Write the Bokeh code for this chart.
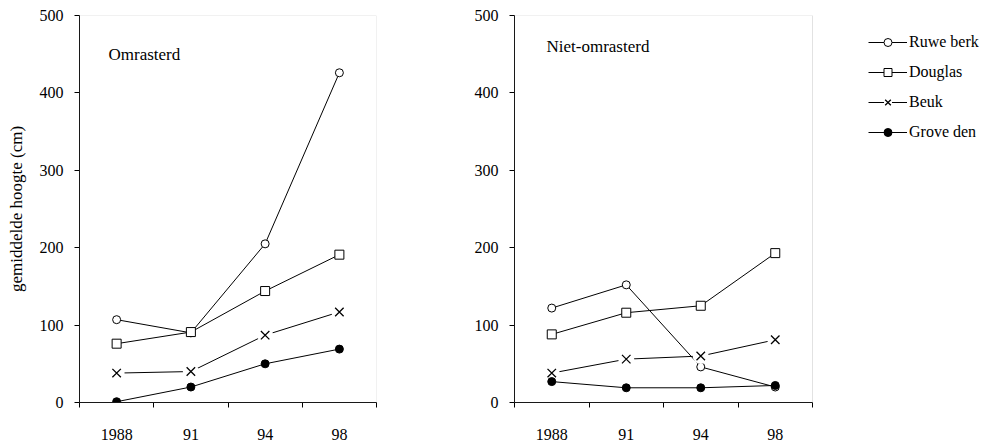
from bokeh.plotting import figure
from bokeh.models import (Range1d, FixedTicker, Label, Legend, LegendItem,
                          BoxAnnotation)
from bokeh.layouts import row
from bokeh.embed import file_html
from bokeh.resources import INLINE

years = ["1988", "91", "94", "98"]
species = ["Ruwe berk", "Douglas", "Beuk", "Grove den"]

# Omrasterd
om_ruwe_berk = [107, 90, 205, 426]
om_douglas = [76, 91, 144, 191]
om_beuk = [38, 40, 87, 117]
om_grove_den = [1, 20, 50, 69]

# Niet-omrasterd
niet_ruwe_berk = [122, 152, 46, 20]
niet_douglas = [88, 116, 125, 193]
niet_beuk = [38, 56, 60, 81]
niet_grove_den = [27, 19, 19, 22]

y_ticks = [0, 100, 200, 300, 400, 500]

FONT = "Liberation Serif"
N = len(years)
xs = [i + 0.5 for i in range(N)]
bounds = list(range(N + 1))


def make_panel(title, series, ylabel, min_left, panel_w, frame_w, min_right,
               top, tx, ty):
    # frame_w may be wider than the panel box to make room for the legend
    x_end = N * frame_w / panel_w
    p = figure(output_backend="svg", toolbar_location=None,
               width=min_left + frame_w + min_right, height=442,
               x_range=Range1d(0, x_end), y_range=Range1d(0, 500),
               min_border_left=min_left, min_border_right=min_right,
               min_border_top=top, min_border_bottom=442 - 388 - top)
    p.grid.visible = False
    p.outline_line_color = None
    p.background_fill_color = "white"
    p.border_fill_color = "white"
    p.add_layout(BoxAnnotation(left=0, right=N, bottom=0, top=500,
                               fill_alpha=0, line_color="#a0a0a0",
                               line_width=1))

    xa = p.xaxis[0]
    xa.bounds = (0, N)
    xa.ticker = FixedTicker(ticks=xs, minor_ticks=bounds)
    xa.major_label_overrides = {x: y for x, y in zip(xs, years)}
    xa.major_tick_out = 0
    xa.major_tick_in = 0
    xa.minor_tick_out = 5
    xa.minor_tick_in = 0
    xa.minor_tick_line_color = "black"
    xa.axis_line_color = "black"
    xa.major_label_standoff = 21
    xa.major_label_text_font = FONT
    xa.major_label_text_font_size = "16px"
    xa.major_label_text_color = "black"

    ya = p.yaxis[0]
    ya.ticker = FixedTicker(ticks=y_ticks, minor_ticks=[])
    ya.major_tick_out = 5
    ya.major_tick_in = 0
    ya.major_tick_line_color = "black"
    ya.axis_line_color = "black"
    ya.major_label_standoff = 11
    ya.major_label_text_font = FONT
    ya.major_label_text_font_size = "16px"
    ya.major_label_text_color = "black"
    if ylabel:
        ya.axis_label = ylabel
        ya.axis_label_text_font = FONT
        ya.axis_label_text_font_size = "17px"
        ya.axis_label_text_font_style = "normal"
        ya.axis_label_text_color = "black"
        ya.axis_label_standoff = 11

    ruwe, doug, beuk, grove = series
    l1 = p.line(xs, ruwe, line_color="black", line_width=1)
    l2 = p.line(xs, doug, line_color="black", line_width=1)
    l3 = p.line(xs, beuk, line_color="black", line_width=1)
    l4 = p.line(xs, grove, line_color="black", line_width=1)

    s1 = p.scatter(xs, ruwe, marker="circle", size=8, fill_color="white",
                   line_color="black", line_width=1)
    s2 = p.scatter(xs, doug, marker="square", size=9, fill_color="white",
                   line_color="black", line_width=1)
    m3 = p.scatter(xs, beuk, marker="circle", size=16, fill_color="white",
                   line_color=None)
    s3 = p.scatter(xs, beuk, marker="x", size=12, line_color="black",
                   line_width=1.3)
    s4 = p.scatter(xs, grove, marker="circle", size=8, fill_color="black",
                   line_color="black")

    items = [
        LegendItem(label=species[0], renderers=[l1, s1]),
        LegendItem(label=species[1], renderers=[l2, s2]),
        LegendItem(label=species[2], renderers=[l3, m3, s3]),
        LegendItem(label=species[3], renderers=[l4, s4]),
    ]

    p.add_layout(Label(x=tx, y=ty, x_units="screen", y_units="screen",
                       text=title, text_font=FONT, text_font_size="17px",
                       text_baseline="middle", text_color="black"))
    return p, items


p1, _ = make_panel("Omrasterd",
                   [om_ruwe_berk, om_douglas, om_beuk, om_grove_den],
                   "gemiddelde hoogte (cm)", 79, 297, 297, 44, 15, 29, 348)
p2, items = make_panel("Niet-omrasterd",
                       [niet_ruwe_berk, niet_douglas, niet_beuk, niet_grove_den],
                       None, 94, 298, 471, 0, 14, 32, 356)

legend = Legend(items=items, location=(354, 260),
                border_line_color=None, background_fill_alpha=0,
                padding=0, margin=0, spacing=10,
                glyph_width=39, glyph_height=20, label_height=20,
                label_standoff=2,
                label_text_font=FONT, label_text_font_size="16px",
                label_text_color="black")
p2.add_layout(legend)

layout = row(p1, p2)
open("out.html", "w").write(file_html(layout, INLINE))
